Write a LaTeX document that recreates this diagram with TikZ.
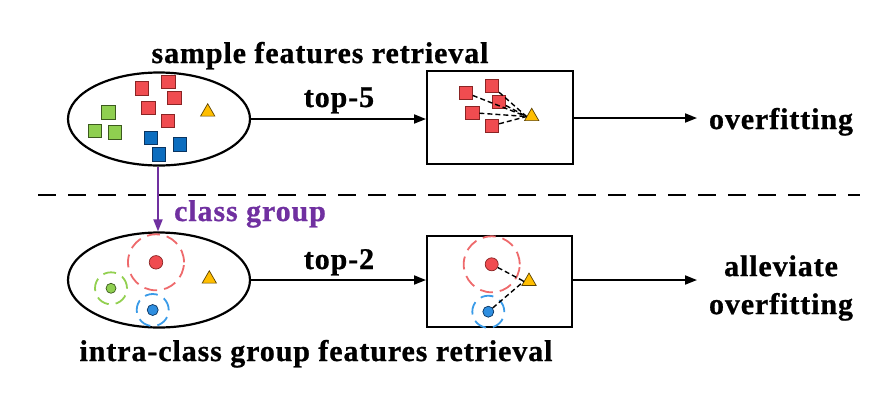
\documentclass[tikz,border=0pt]{standalone}
\usepackage{fontspec}
\setmainfont{Liberation Serif}[LetterSpace=3,FakeBold=0.8]
\usetikzlibrary{shapes.geometric,arrows.meta}
\definecolor{sqred}{HTML}{F04C50}
\definecolor{sqredd}{HTML}{8A2424}
\definecolor{sqgreen}{HTML}{8FCF50}
\definecolor{sqgreend}{HTML}{3C5A1E}
\definecolor{sqblue}{HTML}{0C6DBF}
\definecolor{sqblued}{HTML}{0A3460}
\definecolor{triy}{HTML}{FFBE00}
\definecolor{triyd}{HTML}{5E4300}
\definecolor{ringred}{HTML}{EE6A6C}
\definecolor{ringgreen}{HTML}{92D050}
\definecolor{ringblue}{HTML}{3A9BE8}
\definecolor{dotblue}{HTML}{2E8EE0}
\definecolor{purp}{HTML}{7030A0}
\begin{document}
\begin{tikzpicture}[x=1pt,y=-1pt,
  lbl/.style={font=\bfseries\fontsize{30}{38}\selectfont, inner sep=0pt},
  sqr/.style={draw=sqredd, fill=sqred, minimum size=13.5pt, inner sep=0pt, line width=0.7pt},
  sqg/.style={draw=sqgreend, fill=sqgreen, minimum size=13.5pt, inner sep=0pt, line width=0.7pt},
  sqb/.style={draw=sqblued, fill=sqblue, minimum size=13.5pt, inner sep=0pt, line width=0.7pt},
  tri/.style={regular polygon, regular polygon sides=3, draw=triyd, fill=triy, minimum size=16.5pt, inner sep=0pt, line width=0.7pt},
  blob/.style={draw, ellipse, line width=2.2pt, minimum width=182pt, minimum height=93pt, inner sep=0pt},
  frame/.style={draw, line width=2pt, minimum width=146pt, minimum height=93pt, inner sep=0pt},
  arr/.style={line width=1.8pt, -{Triangle[length=12pt,width=9pt]}},
  link/.style={line width=1.4pt, dash pattern=on 5pt off 3pt},
  ring/.style={circle, line width=1.8pt, dash pattern=on 13pt off 7pt, inner sep=0pt},
  dot/.style={circle, draw=#1, line width=0.7pt, inner sep=0pt}
]
\useasboundingbox (0,0) rectangle (890,402);

% ---------- top row ----------
\node[blob] (E1) at (159,119) {};
\node[sqr] (r1) at (141.7,88.3) {};
\node[sqr] (r2) at (168.3,81.7) {};
\node[sqr] (r3) at (174.3,97.7) {};
\node[sqr] (r4) at (148.3,107.7) {};
\node[sqr] (r5) at (167.7,120.7) {};
\node[sqg] (g1) at (108.3,112.3) {};
\node[sqg] (g2) at (95,131) {};
\node[sqg] (g3) at (115,132.3) {};
\node[sqb] (b1) at (150.7,137.7) {};
\node[sqb] (b2) at (180,144.3) {};
\node[sqb] (b3) at (158.7,154.3) {};
\node[tri] (t1) at (207.7,112) {};

\node[lbl, anchor=base] (title1) at (320,63) {sample features retrieval};

\node[frame] (B1) at (500,117.5) {};
\node[sqr] (q1) at (465.7,92.7) {};
\node[sqr] (q2) at (492,86) {};
\node[sqr] (q3) at (498.7,101.7) {};
\node[sqr] (q4) at (472.3,112.7) {};
\node[sqr] (q5) at (492,125.7) {};
\node[tri] (qt) at (531.7,116.5) {};
\foreach \s in {q1,q2,q3,q4,q5} \draw[link] (\s) -- (qt.west);

\draw[arr] (E1.east) -- (E1.east -| B1.west);
\node[lbl, anchor=base] (k5) at (339,107) {top-5};
\coordinate (o1) at (697,118);
\draw[arr] (B1.east |- o1) -- (o1);
\node[lbl, anchor=base] (of) at (781,129) {overfitting};

% ---------- separator ----------
\coordinate (sepL) at (38,195);
\coordinate (sepR) at (860,195);
\draw[line width=2.5pt, dash pattern=on 18pt off 12pt] (sepL) -- (sepR);

% ---------- bottom row ----------
\node[blob, minimum height=95pt] (E2) at (159,280) {};
\draw[line width=1.8pt, purp, -{Triangle[length=12pt,width=9pt]}] (E1.south -| 158,0) -- (E2.north -| 158,0);
\node[lbl, text=purp, anchor=base] (cg) at (250,221) {class group};

\node[ring, draw=ringred, minimum size=56pt] (cr) at (156,262.3) {};
\node[dot=sqredd, fill=sqred, minimum size=13.5pt] (dr) at (156,262.3) {};
\node[ring, draw=ringgreen, minimum size=32pt] (cgr) at (111,288.3) {};
\node[dot=sqgreend, fill=sqgreen, minimum size=10pt] (dg) at (111,288.3) {};
\node[ring, draw=ringblue, minimum size=32pt] (cb) at (152.7,310) {};
\node[dot=sqblued, fill=dotblue, minimum size=11pt] (db) at (152.7,310) {};
\node[tri] (t2) at (209.3,279) {};

\node[lbl, anchor=base] (title2) at (316,361) {intra-class group features retrieval};

\node[frame, minimum width=145pt, minimum height=91pt] (B2) at (499.5,281.5) {};
\node[ring, draw=ringred, minimum size=56pt] (cr2) at (491.7,264.3) {};
\node[dot=sqredd, fill=sqred, minimum size=13pt] (dr2) at (491.7,264.3) {};
\node[ring, draw=ringblue, minimum size=32pt] (cb2) at (488.3,311.7) {};
\node[dot=sqblued, fill=dotblue, minimum size=11pt] (db2) at (488.3,311.7) {};
\node[tri] (qt2) at (529,281.3) {};
\draw[link] (dr2) -- (qt2.west);
\draw[link] (db2) -- (qt2.west);

\draw[arr] (E2.east) -- (E2.east -| B2.west);
\node[lbl, anchor=base] (k2) at (339,269) {top-2};
\coordinate (o2) at (697,280);
\draw[arr] (B2.east |- o2) -- (o2);
\node[lbl, align=center] (al) at (781,288) {alleviate\\overfitting};
\end{tikzpicture}
\end{document}
